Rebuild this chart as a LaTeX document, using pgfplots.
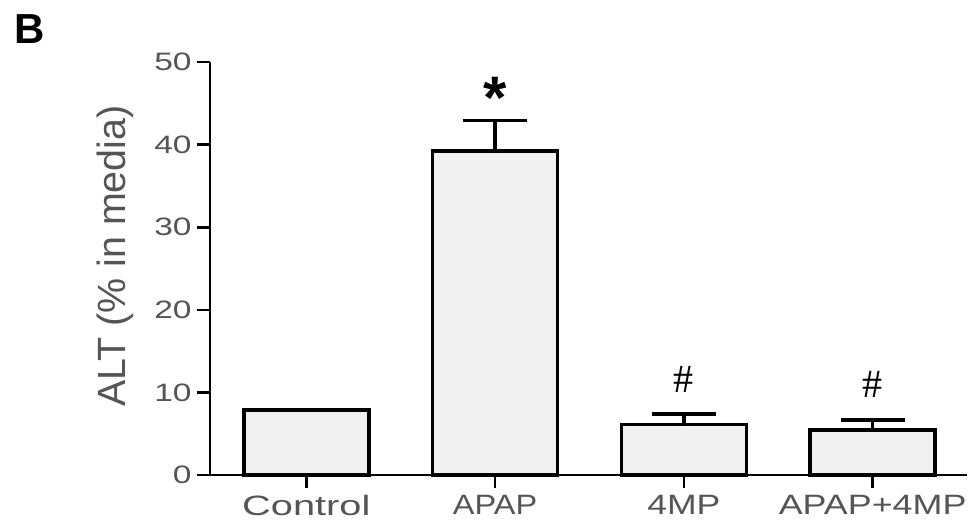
\documentclass[border=0pt]{standalone}
\usepackage{pgfplots}
\pgfplotsset{compat=1.18}
\usepackage{fontspec}
\setmainfont{Liberation Sans}
\newfontfamily\serifb{Liberation Serif}
\definecolor{barfill}{HTML}{F0F0F0}
\definecolor{labgray}{HTML}{555555}
\newcommand{\yl}[1]{\scalebox{1.33}[1]{#1}}
\begin{document}
\begin{tikzpicture}[x=1pt,y=1pt]
\useasboundingbox (0,0) rectangle (487,260.5);
\node[anchor=base west, inner sep=0, font=\fontsize{21}{21}\selectfont\bfseries] at (7,239) {B};
\begin{axis}[
  at={(105pt,23pt)}, anchor=south west,
  scale only axis, width=378.5pt, height=206.5pt,
  xmin=-0.51, xmax=3.5, ymin=0, ymax=50,
  axis x line*=bottom, axis y line*=left,
  ytick={0,10,20,30,40,50}, xtick={0,1,2,3},
  xticklabels={\scalebox{1.42}[1]{Control},\scalebox{1.16}[1]{APAP},\scalebox{1.27}[1]{4MP},\scalebox{1.28}[1]{APAP+4MP}},
  yticklabels={\yl{0},\yl{10},\yl{20},\yl{30},\yl{40},\yl{50}},
  tick align=outside, major tick length=6.5pt,
  axis line style={line width=1.3pt},
  tick style={line width=1.3pt, black},
  yticklabel style={font=\fontsize{12.6}{12.6}\selectfont, text=labgray, inner sep=2.5pt},
  xticklabel style={font=\fontsize{14}{14}\selectfont, text=labgray},
  ybar, bar width=62.5pt,
  clip=false,
]
\addplot[fill=barfill, draw=black, line width=1.8pt,
  error bars/.cd, y dir=plus, y explicit,
  error bar style={line width=1.8pt},
  error mark options={rotate=90, mark size=16pt, line width=1.8pt}]
  table[x=x, y=y, y error=e] {
x y e
0 7.9 0
1 39.2 3.7
2 6.13 1.24
3 5.44 1.2
};
\node[font=\fontsize{30}{30}\selectfont\bfseries] at (axis cs:1,45.6) {*};
\node[font=\serifb\fontsize{20}{20}\selectfont] at (axis cs:2,11.6) {\#};
\node[font=\serifb\fontsize{20}{20}\selectfont] at (axis cs:3,11.0) {\#};
\node[rotate=90, font=\fontsize{19.7}{19.7}\selectfont, text=labgray] at (axis description cs:-0.125,0.53) {ALT (\% in media)};
\end{axis}
\end{tikzpicture}
\end{document}
